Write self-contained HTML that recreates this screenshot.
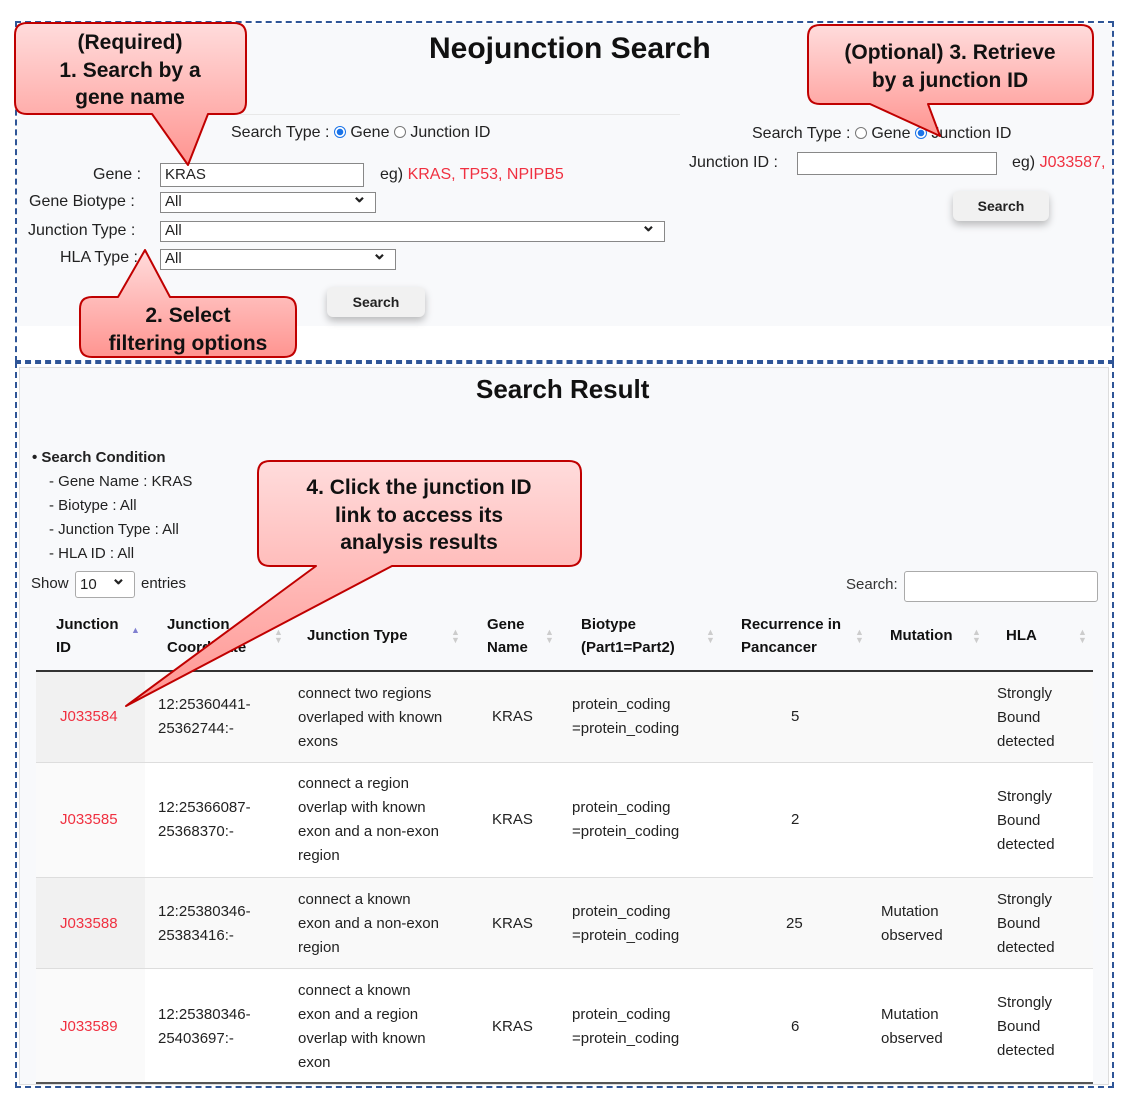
<!DOCTYPE html>
<html><head><meta charset="utf-8"><style>
body{margin:0;width:1127px;height:1100px;background:#fff;position:relative;font-family:"Liberation Sans",Arial,sans-serif;color:#222;overflow:hidden}
.a{position:absolute;white-space:nowrap}
.t{font-size:16px}
.inp{position:absolute;border:1px solid #888;background:#fff;box-sizing:border-box;font-size:15px;padding-left:4px;line-height:18px}
.sel:after{content:"⌄";position:absolute;right:8px;top:-6px;font-size:18px;font-weight:bold}
.btn{position:absolute;background:#f1f1f1;border-radius:6px;box-shadow:0 4px 8px rgba(0,0,0,.25);font-size:14px;font-weight:bold;text-align:center}
.red,.td.red{color:#f03040}
.td{position:absolute;font-size:15px;line-height:24px;color:#222}
.th{position:absolute;font-size:15px;line-height:23px;font-weight:bold;color:#111}
.srt{position:absolute;color:#ccc;font-size:9px;line-height:8px}
.radio{display:inline-block;width:12px;height:12px;border:1px solid #777;border-radius:50%;vertical-align:-1px;background:#fff;box-sizing:border-box}
.radio.on{border:1px solid #1a73e8;background:radial-gradient(circle,#1a73e8 0 3px,#fff 3.5px)}
</style></head><body>
<div class="a" style="left:17px;top:24px;width:1096px;height:302px;background:#f8f9fb"></div>
<div class="a" style="left:15px;top:21px;width:1099px;height:341px;border:2px dashed #2f5597;box-sizing:border-box"></div>
<div class="a" style="left:15px;top:362px;width:1099px;height:726px;border:2px dashed #2f5597;box-sizing:border-box"></div>
<div class="a" style="left:19px;top:367px;width:1088px;height:716px;background:#f8f9fb;border:1px solid #ddd"></div>

<div class="a" style="left:429px;top:32px;font-size:30px;font-weight:bold;color:#111">Neojunction Search</div>
<div class="a" style="left:240px;top:114px;width:440px;border-top:1px solid #e8e8e8"></div>
<div class="a t" style="left:231px;top:124px">Search Type : <span class="radio on"></span> Gene <span class="radio"></span> Junction ID</div>
<div class="a t" style="left:93px;top:166px">Gene :</div>
<div class="inp" style="left:160px;top:163px;width:204px;height:24px;line-height:22px">KRAS</div>
<div class="a t" style="left:380px;top:166px">eg) <span class="red">KRAS, TP53, NPIPB5</span></div>
<div class="a t" style="left:29px;top:193px">Gene Biotype :</div>
<div class="inp sel" style="left:160px;top:192px;width:216px;height:21px">All</div>
<div class="a t" style="left:28px;top:222px">Junction Type :</div>
<div class="inp sel" style="left:160px;top:221px;width:505px;height:21px">All</div>
<div class="a t" style="left:60px;top:249px">HLA Type :</div>
<div class="inp sel" style="left:160px;top:249px;width:236px;height:21px">All</div>
<div class="btn" style="left:327px;top:287px;width:98px;height:30px;line-height:30px">Search</div>

<div class="a t" style="left:752px;top:125px">Search Type : <span class="radio"></span> Gene <span class="radio on"></span> Junction ID</div>
<div class="a t" style="left:689px;top:154px">Junction ID :</div>
<div class="inp" style="left:797px;top:152px;width:200px;height:23px"></div>
<div class="a t" style="left:1012px;top:154px">eg) <span class="red">J033587,</span></div>
<div class="btn" style="left:953px;top:191px;width:96px;height:30px;line-height:30px">Search</div>

<div class="a" style="left:476px;top:374px;font-size:26px;font-weight:bold;color:#111">Search Result</div>
<div class="a" style="left:32px;top:449px;font-size:15px;font-weight:bold;line-height:18px">• Search Condition</div>
<div class="a" style="left:49px;top:470px;font-size:15px;line-height:24px">- Gene Name : KRAS<br>- Biotype : All<br>- Junction Type : All<br>- HLA ID : All</div>
<div class="a" style="left:31px;top:575px;font-size:15px">Show</div>
<div class="inp sel" style="left:75px;top:571px;width:60px;height:27px;border-radius:3px;line-height:25px;border-color:#aaa">10</div>
<div class="a" style="left:141px;top:575px;font-size:15px">entries</div>
<div class="a" style="left:846px;top:576px;font-size:15px;color:#333">Search:</div>
<div class="inp" style="left:904px;top:571px;width:194px;height:31px;border-radius:3px;border-color:#aaa"></div>

<div class="th" style="left:56px;top:613px">Junction<br>ID</div>
<div class="th" style="left:167px;top:613px">Junction<br>Coordinate</div>
<div class="th" style="left:307px;top:624px">Junction Type</div>
<div class="th" style="left:487px;top:613px">Gene<br>Name</div>
<div class="th" style="left:581px;top:613px">Biotype<br>(Part1=Part2)</div>
<div class="th" style="left:741px;top:613px">Recurrence in<br>Pancancer</div>
<div class="th" style="left:890px;top:624px">Mutation</div>
<div class="th" style="left:1006px;top:624px">HLA</div>
<div class="srt" style="left:131px;top:626px;color:#8080d0">▲</div>
<div class="srt" style="left:274px;top:628px">▲<br>▼</div>
<div class="srt" style="left:451px;top:628px">▲<br>▼</div>
<div class="srt" style="left:545px;top:628px">▲<br>▼</div>
<div class="srt" style="left:706px;top:628px">▲<br>▼</div>
<div class="srt" style="left:855px;top:628px">▲<br>▼</div>
<div class="srt" style="left:972px;top:628px">▲<br>▼</div>
<div class="srt" style="left:1078px;top:628px">▲<br>▼</div>
<div class="a" style="left:36px;top:670px;width:1057px;border-top:2px solid #333"></div>

<div class="a" style="left:36px;top:672px;width:1057px;height:90px;background:#f9f9f9"></div>
<div class="a" style="left:36px;top:672px;width:109px;height:90px;background:#f1f1f1"></div>
<div class="a" style="left:36px;top:762px;width:1057px;height:115px;background:#fff;border-top:1px solid #ddd"></div>
<div class="a" style="left:36px;top:763px;width:109px;height:114px;background:#fafafa"></div>
<div class="a" style="left:36px;top:877px;width:1057px;height:91px;background:#f9f9f9;border-top:1px solid #ddd"></div>
<div class="a" style="left:36px;top:878px;width:109px;height:90px;background:#f1f1f1"></div>
<div class="a" style="left:36px;top:968px;width:1057px;height:114px;background:#fff;border-top:1px solid #ddd"></div>
<div class="a" style="left:36px;top:969px;width:109px;height:113px;background:#fafafa"></div>
<div class="a" style="left:36px;top:1082px;width:1057px;border-top:2px solid #555"></div>

<div class="td red" style="left:60px;top:705px">J033584</div>
<div class="td" style="left:158px;top:693px">12:25360441-<br>25362744:-</div>
<div class="td" style="left:298px;top:682px">connect two regions<br>overlaped with known<br>exons</div>
<div class="td" style="left:492px;top:705px">KRAS</div>
<div class="td" style="left:572px;top:693px">protein_coding<br>=protein_coding</div>
<div class="td" style="left:791px;top:705px">5</div>
<div class="td" style="left:997px;top:682px">Strongly<br>Bound<br>detected</div>

<div class="td red" style="left:60px;top:808px">J033585</div>
<div class="td" style="left:158px;top:796px">12:25366087-<br>25368370:-</div>
<div class="td" style="left:298px;top:772px">connect a region<br>overlap with known<br>exon and a non-exon<br>region</div>
<div class="td" style="left:492px;top:808px">KRAS</div>
<div class="td" style="left:572px;top:796px">protein_coding<br>=protein_coding</div>
<div class="td" style="left:791px;top:808px">2</div>
<div class="td" style="left:997px;top:785px">Strongly<br>Bound<br>detected</div>

<div class="td red" style="left:60px;top:912px">J033588</div>
<div class="td" style="left:158px;top:900px">12:25380346-<br>25383416:-</div>
<div class="td" style="left:298px;top:888px">connect a known<br>exon and a non-exon<br>region</div>
<div class="td" style="left:492px;top:912px">KRAS</div>
<div class="td" style="left:572px;top:900px">protein_coding<br>=protein_coding</div>
<div class="td" style="left:786px;top:912px">25</div>
<div class="td" style="left:881px;top:900px">Mutation<br>observed</div>
<div class="td" style="left:997px;top:888px">Strongly<br>Bound<br>detected</div>

<div class="td red" style="left:60px;top:1015px">J033589</div>
<div class="td" style="left:158px;top:1003px">12:25380346-<br>25403697:-</div>
<div class="td" style="left:298px;top:979px">connect a known<br>exon and a region<br>overlap with known<br>exon</div>
<div class="td" style="left:492px;top:1015px">KRAS</div>
<div class="td" style="left:572px;top:1003px">protein_coding<br>=protein_coding</div>
<div class="td" style="left:791px;top:1015px">6</div>
<div class="td" style="left:881px;top:1003px">Mutation<br>observed</div>
<div class="td" style="left:997px;top:991px">Strongly<br>Bound<br>detected</div>

<svg class="a" style="left:0;top:0" width="1127" height="1100">
<defs><linearGradient id="g" x1="0" y1="0" x2="0" y2="1"><stop offset="0" stop-color="#ffdcdc"/><stop offset="1" stop-color="#ff9490"/></linearGradient></defs>
<g fill="url(#g)" stroke="#c00000" stroke-width="2" stroke-linejoin="round">
<path d="M27,23 H234 Q246,23 246,35 V102 Q246,114 234,114 H208 L188,165 L152,114 H27 Q15,114 15,102 V35 Q15,23 27,23 Z"/>
<path d="M92,297 H118 L145,250 L170,297 H284 Q296,297 296,309 V345 Q296,357 284,357 H92 Q80,357 80,345 V309 Q80,297 92,297 Z"/>
<path d="M820,25 H1081 Q1093,25 1093,37 V92 Q1093,104 1081,104 H928 L940,136 L870,104 H820 Q808,104 808,92 V37 Q808,25 820,25 Z"/>
<path d="M270,461 H569 Q581,461 581,473 V554 Q581,566 569,566 H392 L126,706 L316,566 H270 Q258,566 258,554 V473 Q258,461 270,461 Z"/>
</g>
<g font-family="Liberation Sans,Arial,sans-serif" font-weight="bold" font-size="21" fill="#111" text-anchor="middle">
<text x="130" y="49">(Required)</text><text x="130" y="77">1. Search by a</text><text x="130" y="104">gene name</text>
<text x="188" y="322">2. Select</text><text x="188" y="350">filtering options</text>
<text x="950" y="59">(Optional) 3. Retrieve</text><text x="950" y="87">by a junction ID</text>
<text x="419" y="494">4. Click the junction ID</text><text x="419" y="522">link to access its</text><text x="419" y="549">analysis results</text>
</g></svg>
</body></html>
